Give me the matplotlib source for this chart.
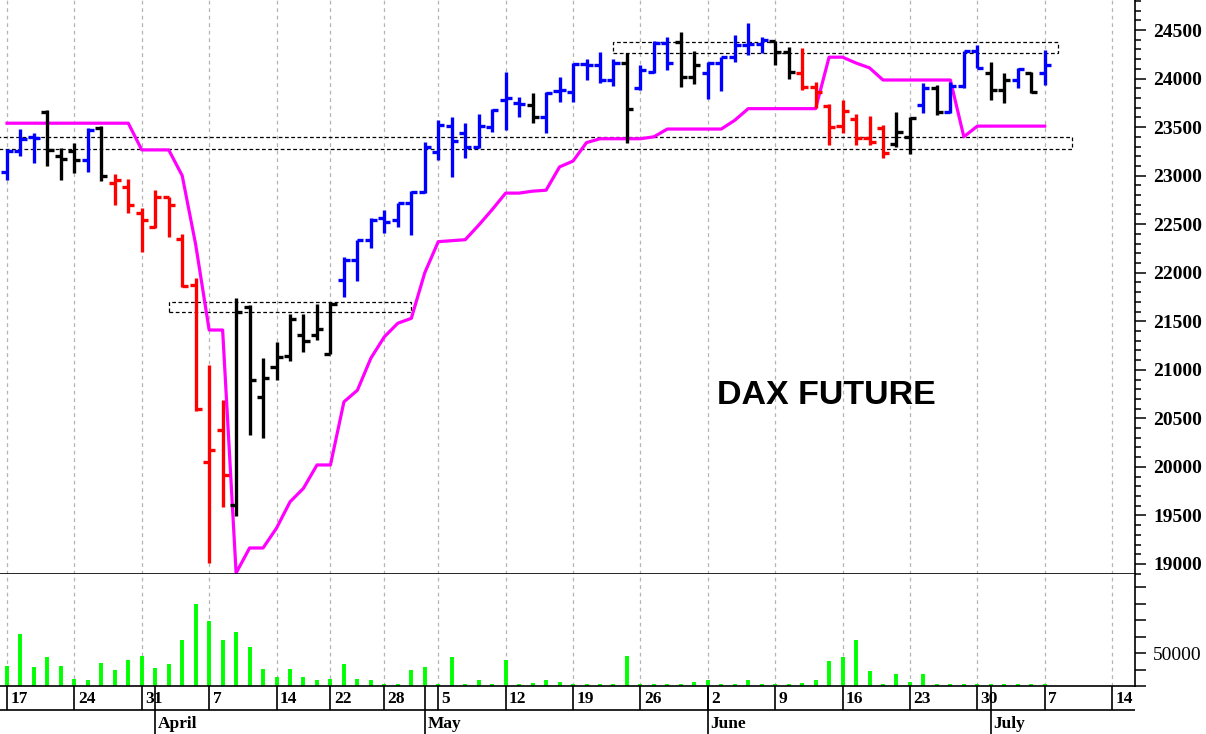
import matplotlib.pyplot as plt
from matplotlib.patches import Rectangle
import numpy as np

# trading-day index 0 = Mon 17 March 2025
opens = [23040, 23250, 23400, 23660, 23200, 23250, 23160, 23490, 22920, 22880,
         22620, 22470, 22780, 22350, 21870, 20050, 20380, 19610, 21650, 20720,
         21030, 21140, 21360, 21360, 21160, 21930, 22130, 22340, 22560, 22540,
         22720, 22830, 23240, 23510, 23440, 23300, 23500, 23780, 23750, 23730,
         23600, 23870, 23860, 24150, 24140, 23990, 24160, 23900, 24070, 24370,
         24380, 24020, 24060, 24160, 24220, 24350, 24360, 24390, 24270, 24060,
         23910, 23720, 23510, 23580, 23390, 23490, 23330, 23400, 23730, 23900,
         23660, 23920, 24280, 24060, 23880, 23980, 24060, 24060]
highs = [23270, 23480, 23440, 23680, 23280, 23340, 23490, 23510, 23020, 22970,
         22670, 22850, 22780, 22400, 21950, 21050, 20690, 21740, 21670, 21120,
         21290, 21580, 21570, 21680, 21700, 22160, 22340, 22560, 22650, 22720,
         22840, 23350, 23570, 23600, 23540, 23630, 23690, 24070, 23810, 23850,
         23860, 24020, 24160, 24200, 24270, 24200, 24260, 24140, 24390, 24430,
         24480, 24280, 24170, 24220, 24450, 24570, 24430, 24390, 24330, 24310,
         23960, 23740, 23780, 23630, 23610, 23520, 23660, 23600, 23950, 23930,
         23960, 24280, 24350, 24170, 24060, 24110, 24070, 24290]
lows = [22950, 23200, 23130, 23100, 22960, 23030, 23040, 22940, 22700, 22620,
        22210, 22460, 22370, 21850, 20580, 19010, 19590, 19490, 20330, 20300,
        20900, 21090, 21180, 21310, 21160, 21750, 21910, 22250, 22410, 22470,
        22390, 22820, 23160, 22990, 23180, 23280, 23450, 23470, 23600, 23540,
        23440, 23760, 23760, 23990, 23950, 23920, 23340, 23880, 24060, 24090,
        23910, 23940, 23790, 23870, 24170, 24240, 24260, 24140, 24000, 23880,
        23700, 23320, 23440, 23320, 23320, 23180, 23290, 23220, 23650, 23620,
        23650, 23900, 24110, 23780, 23750, 23900, 23850, 23930]
closes = [23250, 23380, 23390, 23260, 23170, 23160, 23470, 23000, 22950, 22700,
          22540, 22780, 22700, 21860, 20600, 20170, 19920, 21600, 20900, 20920,
          21130, 21520, 21300, 21420, 21680, 22130, 22340, 22540, 22520, 22720,
          22830, 23300, 23520, 23360, 23300, 23510, 23680, 23800, 23740, 23600,
          23850, 23880, 24150, 24140, 23990, 24160, 23690, 24090, 24370, 24160,
          24020, 24140, 24160, 24220, 24350, 24360, 24400, 24270, 24070, 23910,
          23860, 23500, 23670, 23390, 23350, 23230, 23450, 23590, 23900, 23660,
          23920, 24280, 24110, 23880, 23980, 24100, 23860, 24140]
bar_state = list("bbbkkkbk" + "rrrrrrrrr" + "kkkkkkkk" + "bbbbbbbbbbbbbb" + "k"
                 + "bbbbbb" + "k" + "bbb" + "kk" + "bbbbb" + "kk" + "rrrrrrr"
                 + "kk" + "b" + "k" + "bbb" + "kk" + "b" + "k" + "b")
stop_line = [23540] * 10 + [23265] * 3 + [23000, 22290, 21410, 21410, 18907,
             19165, 19165, 19370, 19640, 19780, 20020, 20020, 20670, 20790,
             21120, 21340, 21480, 21530, 22000, 22320, 22330, 22340, 22490,
             22650, 22820, 22820, 22840, 22850, 23090, 23150, 23340, 23380,
             23380, 23380, 23380, 23400] + [23480] * 5 + [23570] + [23690] * 6 \
             + [24220, 24220, 24160, 24110] + [23985] * 6 + [23400] + [23510] * 6
volume = [42300, 61500, 41300, 47400, 41900, 34200, 33600, 43700, 39700, 45800,
          48000, 40700, 43100, 57900, 79700, 69200, 57900, 62900, 53400, 40300,
          35300, 40300, 35300, 33600, 34200, 43100, 34200, 33600, 31500, 31500,
          39700, 41300, 31500, 47400, 31500, 33600, 31500, 45800, 31500, 31800,
          33600, 32600, 31500, 31500, 31500, 31500, 48000, 31500, 31500, 31500,
          31500, 32600, 33600, 31500, 31500, 33600, 31500, 31500, 31500, 31800,
          33600, 45000, 47400, 57900, 38900, 31500, 37100, 32600, 37100, 31500,
          31500, 31500, 31500, 31500, 31500, 31500, 31500, 31500]

week_idx = [0, 5, 10, 15, 20, 24, 28, 32, 37, 42, 47, 52, 57, 62, 67, 72, 77, 82]
week_labels = ["17", "24", "31", "7", "14", "22", "28", "5", "12", "19", "26",
               "2", "9", "16", "23", "30", "7", "14"]
month_idx = [11, 31, 52, 73]
month_labels = ["April", "May", "June", "July"]

# dotted zones: (first index, last index, low, high)
zones = [(-2, 79, 23275, 23400), (12, 30, 21596, 21700), (45, 78, 24265, 24380)]

colors = {"b": "#0000ff", "r": "#ff0000", "k": "#000000"}

plt.rcParams['font.family'] = ['Liberation Serif', 'DejaVu Serif']

fig = plt.figure(figsize=(12.06, 7.34), dpi=100)
x0, x1 = -0.52, 83.7
right = 1135 / 1206
ax1 = fig.add_axes([0, 1 - 574 / 734, right, 574 / 734])
ax2 = fig.add_axes([0, 1 - 686 / 734, right, 112 / 734])
ax3 = fig.add_axes([0, 0, right, 48 / 734])

x = np.arange(len(opens))
cols = [colors[c] for c in bar_state]

# price panel
for i in week_idx:
    for ax in (ax1, ax2):
        ax.axvline(i, color="#b4b4b4", lw=0.9, ls=(0, (3, 3)), zorder=0)

for lo, hi_i, lo_p, hi_p in zones:
    ax1.add_patch(Rectangle((lo, lo_p), hi_i - lo, hi_p - lo_p, fill=False,
                            ec="black", lw=0.9, ls=(0, (3, 2)), zorder=1))

ax1.plot(x, stop_line, color="#ff00ff", lw=2.3, zorder=2)
ax1.vlines(x, lows, highs, colors=cols, lw=2.4, zorder=3)
ax1.hlines(opens, x - 0.45, x, colors=cols, lw=2.4, zorder=3)
ax1.hlines(closes, x, x + 0.45, colors=cols, lw=2.4, zorder=3)

ax1.text(60.8, 20740, "DAX FUTURE", fontsize=24.5, fontweight="bold",
         family="Liberation Sans", ha="center", va="center")

ax1.set_xlim(x0, x1)
ax1.set_ylim(18897, 24809)
ax1.yaxis.tick_right()
ax1.set_yticks(np.arange(19000, 24501, 500))
ax1.set_yticks(np.arange(18900, 24801, 100), minor=True)
ax1.tick_params(axis="y", which="major", length=8, width=1.1, pad=5,
                labelsize=14)
ax1.tick_params(axis="y", which="minor", length=4.5, width=1.1)
for lab in ax1.get_yticklabels():
    lab.set_fontweight("bold")
ax1.set_xticks([])
for s in ("left", "top"):
    ax1.spines[s].set_visible(False)
ax1.spines["right"].set_linewidth(1.2)
ax1.spines["bottom"].set_linewidth(1.2)

# volume panel
ax2.vlines(x, 30000, volume, colors="#00ff00", lw=2.8)
ax2.set_xlim(x0, x1)
ax2.set_ylim(30000, 98000)
ax2.yaxis.tick_right()
vt = np.arange(30000, 90001, 10000)
ax2.set_yticks(vt)
ax2.set_yticklabels(["50000" if v == 50000 else "" for v in vt])
ax2.tick_params(axis="y", length=8, width=1.1, pad=5, labelsize=14)
ax2.set_xticks([])
for s in ("left", "top"):
    ax2.spines[s].set_visible(False)
ax2.spines["right"].set_linewidth(1.2)
ax2.spines["bottom"].set_linewidth(1.2)

# date rows
ax3.set_xlim(x0, x1)
ax3.set_ylim(0, 2)
ax3.axis("off")
ax3.axhline(1, color="black", lw=1.2)
ax3.vlines(week_idx, 1, 2, colors="black", lw=1.2)
ax3.vlines(month_idx, 0, 2, colors="black", lw=1.2)
for i, lab in zip(week_idx, week_labels):
    ax3.text(i + 0.25, 1.47, lab, fontsize=12.5, fontweight="bold",
             ha="left", va="center")
for i, lab in zip(month_idx, month_labels):
    ax3.text(i + 0.2, 0.42, lab, fontsize=12.5, fontweight="bold",
             ha="left", va="center")

fig.savefig("out.png", dpi=100)
